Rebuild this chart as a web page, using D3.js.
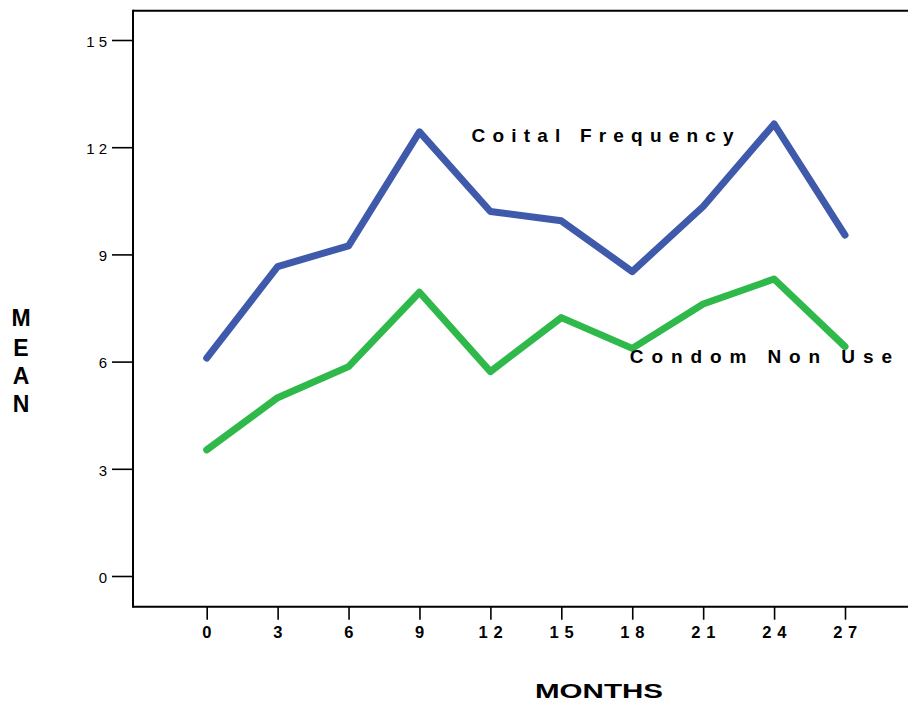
<!DOCTYPE html>
<html>
<head>
<meta charset="utf-8">
<script src="https://cdn.jsdelivr.net/npm/d3@7"></script>
<style>
  html, body { margin: 0; padding: 0; background: #fff; }
  svg { display: block; font-family: "Liberation Sans", Arial, sans-serif; }
</style>
</head>
<body>
<svg id="chart" width="908" height="702"></svg>
<script>
// ---- data ----
const months = [0, 3, 6, 9, 12, 15, 18, 21, 24, 27];
const coitalFrequency = [6.10, 8.66, 9.24, 12.43, 10.20, 9.94, 8.52, 10.34, 12.65, 9.54];
const condomNonUse   = [3.53, 4.99, 5.86, 7.94, 5.72, 7.23, 6.37, 7.61, 8.31, 6.42];
const yTicks = [0, 3, 6, 9, 12, 15];
const xTicks = [0, 3, 6, 9, 12, 15, 18, 21, 24, 27];
const seriesNames = ["Coital Frequency", "Condom Non Use"];
const xTitle = "MONTHS";
const yTitle = "MEAN";

// ---- layout ----
const svg = d3.select("#chart");
const frame = { left: 133, top: 10.7, right: 908, bottom: 606.7 };
const x = d3.scaleLinear().domain([0, 27]).range([206.7, 845]);
const y = d3.scaleLinear().domain([0, 15]).range([576, 40]);
const spaced = d => String(d).split("").join(" ");

// frame lines
const fg = svg.append("g").attr("stroke", "#000").attr("stroke-width", 2).attr("fill", "none");
fg.append("line").attr("x1", frame.left).attr("x2", frame.left).attr("y1", frame.top - 1).attr("y2", frame.bottom + 1);
fg.append("line").attr("x1", frame.left).attr("x2", frame.right).attr("y1", frame.top).attr("y2", frame.top);
fg.append("line").attr("x1", frame.left).attr("x2", frame.right).attr("y1", frame.bottom).attr("y2", frame.bottom);

// y axis
const yAxis = svg.append("g")
  .attr("transform", `translate(${frame.left},0)`)
  .call(d3.axisLeft(y).tickValues(yTicks).tickSize(21).tickPadding(5).tickFormat(spaced));
yAxis.select(".domain").remove();
yAxis.selectAll(".tick line").attr("stroke", "#000").attr("stroke-width", 1.6);
yAxis.selectAll(".tick text")
  .attr("fill", "#000").attr("dy", "0.42em")
  .style("font-family", "'Liberation Sans', Arial, sans-serif")
  .style("font-size", "15px");

// x axis
const xAxis = svg.append("g")
  .attr("transform", `translate(0,${frame.bottom})`)
  .call(d3.axisBottom(x).tickValues(xTicks).tickSize(13).tickPadding(7).tickFormat(spaced));
xAxis.select(".domain").remove();
xAxis.selectAll(".tick line").attr("stroke", "#000").attr("stroke-width", 1.6);
xAxis.selectAll(".tick text")
  .attr("fill", "#000")
  .style("font-family", "'Liberation Sans', Arial, sans-serif")
  .style("font-size", "16.5px").style("font-weight", "bold")
  .style("letter-spacing", "0.6px");

// lines
const line = d3.line().x((d, i) => x(months[i])).y(d => y(d));
const series = [
  { name: seriesNames[0], values: coitalFrequency, color: "#3f59ab" },
  { name: seriesNames[1], values: condomNonUse, color: "#2fb94b" }
];
svg.selectAll("path.series").data(series).enter().append("path")
  .attr("class", "series")
  .attr("d", d => line(d.values))
  .attr("fill", "none")
  .attr("stroke", d => d.color)
  .attr("stroke-width", 7)
  .attr("stroke-linecap", "round")
  .attr("stroke-linejoin", "round");

// series labels (anchored in data units)
const labelAnchors = [{ m: 11.2, v: 12.15, ls: 7.2 }, { m: 17.9, v: 5.95, ls: 7.9 }];
svg.selectAll("text.slabel").data(series).enter().append("text")
  .attr("class", "slabel")
  .attr("x", (d, i) => x(labelAnchors[i].m))
  .attr("y", (d, i) => y(labelAnchors[i].v))
  .attr("fill", "#000")
  .style("font-size", "19px").style("font-weight", "bold")
  .style("letter-spacing", (d, i) => labelAnchors[i].ls + "px")
  .text(d => d.name);

// axis titles
svg.append("text")
  .attr("x", 535).attr("y", 698)
  .attr("textLength", 128).attr("lengthAdjust", "spacingAndGlyphs")
  .style("font-size", "21px").style("font-weight", "bold")
  .attr("fill", "#000")
  .text(xTitle);

const yBase = [326, 356, 384, 412];
svg.selectAll("text.ytitle").data(yTitle.split("")).enter().append("text")
  .attr("class", "ytitle")
  .attr("x", 21).attr("y", (d, i) => yBase[i])
  .attr("text-anchor", "middle")
  .attr("fill", "#000")
  .style("font-size", "23px").style("font-weight", "bold")
  .text(d => d);
</script>
</body>
</html>
